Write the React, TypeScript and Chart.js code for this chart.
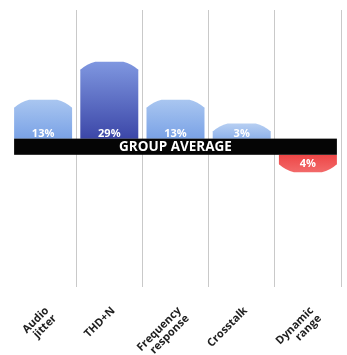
import React, { useEffect, useRef } from "react";
import { Chart, registerables } from "chart.js";

Chart.register(...registerables);

const CATEGORIES: string[][] = [
  ["Audio", "jitter"],
  ["THD+N"],
  ["Frequency", "response"],
  ["Crosstalk"],
  ["Dynamic", "range"],
];
const VALUES = [13, 29, 13, 3, -4];
const VALUE_LABELS = ["13%", "29%", "13%", "3%", "4%"];
const AVERAGE_LABEL = "GROUP AVERAGE";

const TOP_COLORS = ["#a9c6f0", "#7f97e0", "#a9c6f0", "#b7cff2", "#f26a6a"];
const BOTTOM_COLORS = ["#7aa2e6", "#3c47a8", "#7aa2e6", "#8fb2ea", "#ee4646"];

const BAND = 3.4; // half-height of the group-average band, in value units
const CAP = 8; // px height of the bevelled cap
const CAP_INSET = 15; // px horizontal inset of the cap shoulders
const FONT = "'Open Sans', Lato, 'DejaVu Sans', sans-serif";

export default function App() {
  const ref = useRef<HTMLCanvasElement | null>(null);

  useEffect(() => {
    if (!ref.current) return;

    const gradientFor = (ctx: any) => {
      const i = ctx.dataIndex;
      const chart = ctx.chart;
      const { chartArea, scales } = chart;
      if (!chartArea || !scales.y) return BOTTOM_COLORS[i];
      const v = VALUES[i];
      const s = v >= 0 ? 1 : -1;
      const y0 = scales.y.getPixelForValue(s * BAND);
      const y1 = scales.y.getPixelForValue(s * BAND + v) - s * CAP;
      const g = chart.ctx.createLinearGradient(0, y1, 0, y0);
      g.addColorStop(0, TOP_COLORS[i]);
      g.addColorStop(1, BOTTOM_COLORS[i]);
      return g;
    };

    const decor = {
      id: "decor",
      afterDatasetsDraw(chart: any) {
        const ctx = chart.ctx;
        const meta = chart.getDatasetMeta(0);
        const yS = chart.scales.y;
        ctx.save();
        // caps
        meta.data.forEach((bar: any) => {
          const { x, y, base, width } = bar.getProps(["x", "y", "base", "width"], true);
          const dir = y < base ? -1 : 1;
          const l = x - width / 2;
          const r = x + width / 2;
          ctx.fillStyle = bar.options.backgroundColor;
          ctx.beginPath();
          ctx.moveTo(l, y - dir * 0.5);
          ctx.lineTo(l, y);
          ctx.quadraticCurveTo(l + CAP_INSET * 0.45, y + dir * CAP * 0.75, l + CAP_INSET, y + dir * CAP);
          ctx.lineTo(r - CAP_INSET, y + dir * CAP);
          ctx.quadraticCurveTo(r - CAP_INSET * 0.45, y + dir * CAP * 0.75, r, y);
          ctx.lineTo(r, y - dir * 0.5);
          ctx.closePath();
          ctx.fill();
        });
        // band
        const first = meta.data[0];
        const last = meta.data[meta.data.length - 1];
        const bl = first.x - first.width / 2;
        const br = last.x + last.width / 2;
        const bt = yS.getPixelForValue(BAND);
        const bb = yS.getPixelForValue(-BAND);
        ctx.fillStyle = "#050505";
        ctx.fillRect(bl, bt, br - bl, bb - bt);
        ctx.fillStyle = "#ffffff";
        ctx.font = `bold 13.5px ${FONT}`;
        ctx.textAlign = "center";
        ctx.textBaseline = "middle";
        ctx.fillText(AVERAGE_LABEL, (bl + br) / 2, (bt + bb) / 2 + 0.5);
        // value labels
        ctx.font = `bold 11px ${FONT}`;
        meta.data.forEach((bar: any, i: number) => {
          const { x } = bar.getProps(["x"], true);
          if (VALUES[i] >= 0) {
            ctx.textBaseline = "bottom";
            ctx.fillText(VALUE_LABELS[i], x, bt + 1);
          } else {
            ctx.textBaseline = "top";
            ctx.fillText(VALUE_LABELS[i], x, bb + 4);
          }
        });
        ctx.restore();
      },
    };

    const chart = new Chart(ref.current, {
      type: "bar",
      data: {
        labels: CATEGORIES,
        datasets: [
          {
            data: VALUES.map((v) => (v >= 0 ? [BAND, BAND + v] : [-BAND, -BAND + v])) as any,
            backgroundColor: gradientFor as any,
            borderWidth: 0,
            barPercentage: 0.876,
            categoryPercentage: 1,
          },
        ],
      },
      options: {
        animation: false,
        responsive: true,
        maintainAspectRatio: false,
        layout: { padding: { left: 10, right: 6, top: 10, bottom: 0 } },
        plugins: { legend: { display: false }, tooltip: { enabled: false } },
        scales: {
          x: {
            grid: {
              offset: true,
              drawTicks: false,
              lineWidth: 1,
              color: (c: any) => (c.index === 0 || c.index >= CATEGORIES.length ? "rgba(0,0,0,0)" : "#c9c9c9"),
            },
            border: { display: false },
            ticks: {
              minRotation: 45,
              maxRotation: 45,
              padding: 18,
              labelOffset: 4,
              color: "#1e1e1e",
              font: { family: FONT, size: 11, weight: "bold", lineHeight: 1.0 },
            },
            afterFit: (scale: any) => {
              scale.height = 68;
              scale.paddingLeft = 0;
              scale.paddingRight = 0;
            },
          },
          y: {
            display: false,
            min: -59,
            max: 57.5,
          },
        },
      },
      plugins: [decor],
    });
    return () => chart.destroy();
  }, []);

  return (
    <div style={{ position: "absolute", left: 0, top: 0, width: 347, height: 355, background: "#ffffff" }}>
      <canvas ref={ref} />
    </div>
  );
}
